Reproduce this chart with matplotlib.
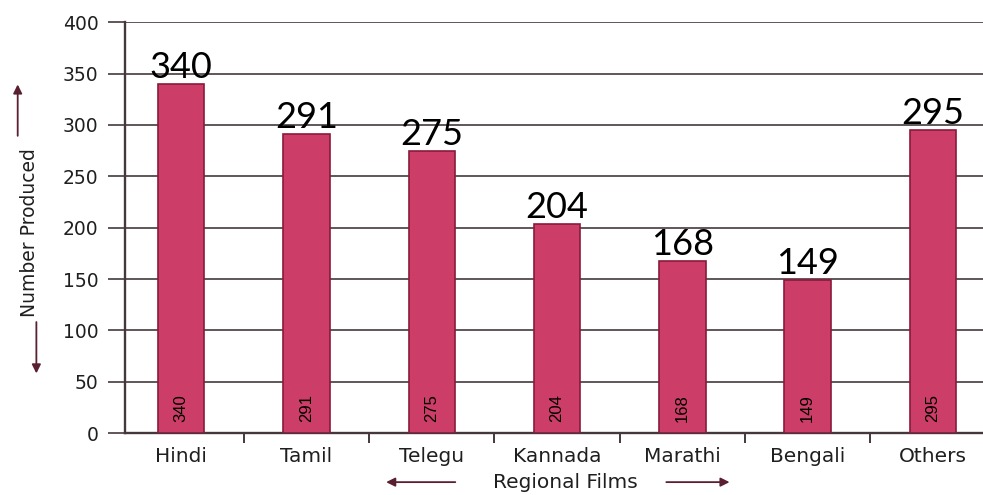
import matplotlib
matplotlib.use("Agg")
import matplotlib.pyplot as plt
from matplotlib.patches import FancyArrowPatch

# ─── Data ─────────────────────────────────────────────────────────────────────
films = ["Hindi", "Tamil", "Telegu", "Kannada", "Marathi", "Bengali", "Others"]
produced = [340, 291, 275, 204, 168, 149, 295]
y_ticks = [0, 50, 100, 150, 200, 250, 300, 350, 400]

BAR_COLOR = "#cc3d68"
EDGE_COLOR = "#8a1a3c"
LINE_COLOR = "#45383c"
TEXT_COLOR = "#1f1f1f"

fig = plt.figure(figsize=(9.83, 4.95), dpi=100)
ax = fig.add_axes([0.127, 0.125, 0.873, 0.83])

xs = range(len(films))
ax.bar(xs, produced, width=0.37, color=BAR_COLOR, edgecolor=EDGE_COLOR,
       linewidth=1.2, zorder=3)

# value labels on top (large) and inside the bars (small, rotated)
for x, v in zip(xs, produced):
    ax.annotate(str(v), (x, v), xytext=(0, 0), textcoords="offset points",
                ha="center", va="bottom", fontsize=26, family="Lato",
                color="black", zorder=4)
    ax.text(x, 11, str(v), rotation=90, ha="center", va="bottom",
            fontsize=12, family="Liberation Sans", color="black", zorder=4)

ax.set_xlim(-0.45, 6.40)
ax.set_ylim(0, 400)
ax.set_yticks(y_ticks)
ax.set_yticklabels([str(t) for t in y_ticks], fontsize=13.5,
                   family="DejaVu Sans", color=TEXT_COLOR)
ax.yaxis.grid(True, color=LINE_COLOR, lw=1.2, zorder=0)

ax.set_xticks(list(xs))
ax.set_xticklabels(films, fontsize=14.5, family="DejaVu Sans",
                   color=TEXT_COLOR)
ax.set_xticks([i + 0.5 for i in range(len(films) - 1)], minor=True)
ax.tick_params(axis="x", which="major", length=0, pad=10)
ax.tick_params(axis="x", which="minor", length=7, width=1.4,
               color=LINE_COLOR, direction="out")
ax.tick_params(axis="y", length=12, width=1.2, color=LINE_COLOR, pad=7)

for side in ["top", "right"]:
    ax.spines[side].set_visible(False)
for side in ["left", "bottom"]:
    ax.spines[side].set_color(LINE_COLOR)
    ax.spines[side].set_linewidth(1.7)

# axis titles with arrows
fig.text(0.03, 0.53, "Number Produced", rotation=90, ha="center",
         va="center", fontsize=13.5, family="DejaVu Sans", color=TEXT_COLOR)
fig.text(0.575, 0.006, "Regional Films", ha="center", va="bottom",
         fontsize=14.5, family="DejaVu Sans", color=TEXT_COLOR)

arrow = dict(arrowstyle="-|>", color="#5a1f30", lw=1.3, mutation_scale=13,
             transform=fig.transFigure)
fig.add_artist(FancyArrowPatch((0.018, 0.72), (0.018, 0.835), **arrow))
fig.add_artist(FancyArrowPatch((0.037, 0.355), (0.037, 0.24), **arrow))
fig.add_artist(FancyArrowPatch((0.466, 0.026), (0.39, 0.026), **arrow))
fig.add_artist(FancyArrowPatch((0.675, 0.026), (0.745, 0.026), **arrow))

fig.savefig("out.png", dpi=100)
